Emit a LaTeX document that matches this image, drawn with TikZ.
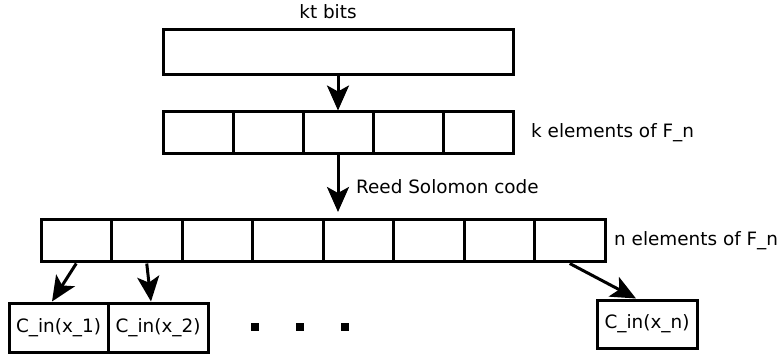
\documentclass[tikz,border=0pt]{standalone}
\usepackage{fontspec}
\setmainfont{DejaVu Sans}
\usetikzlibrary{arrows.meta}
\begin{document}
\begin{tikzpicture}[x=1pt,y=-1pt,
  every node/.style={font=\fontsize{18.4}{21}\selectfont},
  cell/.style={draw,line width=3pt,inner sep=0pt,minimum width=70pt,minimum height=42pt},
  ncell/.style={cell,minimum width=70.5pt},
  outbox/.style={draw,line width=3pt,inner sep=0pt,minimum height=49pt},
  lab/.style={anchor=west,inner sep=0pt},
  dotsq/.style={fill=black,inner sep=0pt,minimum size=8pt},
  arr/.style={line width=3pt,-{Stealth[length=25pt,width=22pt,inset=6pt]}}]
\useasboundingbox (0,0) rectangle (782,358);
\node[draw,line width=3pt,inner sep=0pt,minimum width=350pt,minimum height=45pt] (top) at (338,52.5) {};
\node[inner sep=0pt] (kt) at (328,12) {kt bits};
\foreach \i/\x in {1/198,2/268,3/338,4/408,5/478.5}
  \node[cell] (k\i) at (\x,133) {};
\node[lab] (klab) at (531,133) {k elements of F\_n};
\foreach \i in {1,...,8}
  \node[ncell] (n\i) at ({41+35.25+70.5*(\i-1)},241) {};
\node[lab] (nlab) at (614,241) {n elements of F\_n};
\coordinate (rsend) at (338,212);
\node[lab] (rslab) at (356,187) {Reed Solomon code};
\node[outbox,minimum width=99pt] (c1) at (58.5,327.5) {C\_in(x\_1)};
\node[outbox,minimum width=100pt] (c2) at (158,327.5) {C\_in(x\_2)};
\node[outbox,minimum width=100pt,minimum height=48pt] (cn) at (647,324) {C\_in(x\_n)};
\node[dotsq] (d1) at (255,327) {};
\node[dotsq] (d2) at (300,327) {};
\node[dotsq] (d3) at (345,327) {};
\draw[arr] (top.south) -- (k3.north);
\draw[arr] (k3.south) -- (rsend);
\draw[arr] (n1.south) -- ([xshift=-6.5pt]c1.north);
\draw[arr] (n2.south) -- ([xshift=-7pt]c2.north);
\draw[arr] (n8.south) -- ([xshift=-11pt]cn.north);
\end{tikzpicture}
\end{document}
